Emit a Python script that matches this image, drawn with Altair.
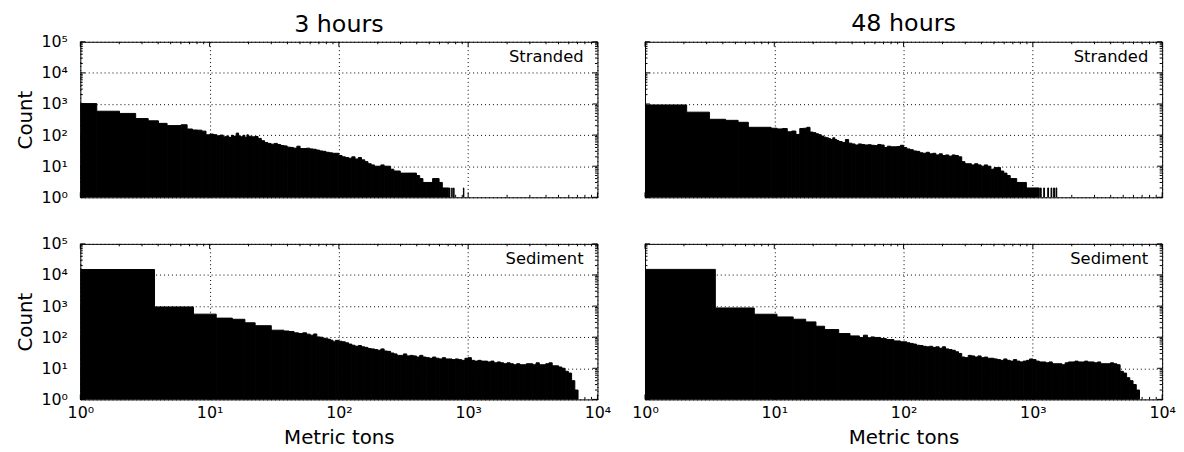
import altair as alt
import pandas as pd

# Shared bin edges (metric tons) for the densely binned part of every histogram
GRID = [19.95, 21.13, 22.39, 23.71, 25.12, 26.61, 28.18, 29.85,
        31.62, 33.50, 35.48, 37.58, 39.81, 42.17, 44.67, 47.32, 50.12, 53.09, 56.23, 59.57,
        63.10, 66.83, 70.79, 74.99, 79.43, 84.14, 89.13, 94.41,
        100.0, 105.9, 112.2, 118.9, 125.9, 133.4, 141.3, 149.6, 158.5, 167.9,
        177.8, 188.4, 199.5, 211.3, 223.9, 237.1, 251.2, 266.1, 281.8, 298.5,
        316.2, 335.0, 354.8, 375.8, 398.1, 421.7, 446.7, 473.2, 501.2, 530.9,
        562.3, 595.7, 631.0, 668.3, 707.9, 749.9, 794.3, 841.4, 891.3, 944.1,
        1000.0, 1059, 1122, 1189, 1259, 1334, 1413, 1496, 1585, 1679,
        1778, 1884, 1995, 2113, 2239, 2371, 2512, 2661, 2818, 2985,
        3162, 3350, 3548, 3758, 3981, 4217, 4467, 4732, 5012, 5309,
        5623, 5957, 6310, 6683, 7079]

# ---- 3 hours, Stranded ----
S3_LOW_EDGES = [1.0, 1.34, 2.01, 2.68, 3.35, 4.02, 4.69, 5.36, 6.03, 6.70, 7.37, 8.04, 8.71,
                9.38, 10.05, 10.72, 11.39, 12.06, 12.73, 13.40, 14.07, 14.74, 15.41, 16.08,
                16.75, 17.42, 18.09, 18.76, 19.43, 19.95]
S3_LOW_COUNTS = [1030, 585, 497, 340, 288, 238, 202, 202, 215, 157, 146, 144, 134, 102, 108,
                 103, 95, 100, 88, 93, 84, 98, 90, 116, 93, 88, 98, 84, 102]
S3_DENSE_COUNTS = [92, 88, 90, 78, 66, 58, 54, 51, 54, 50,
                   46, 45, 41, 40, 38, 44, 37, 37, 38, 36,
                   35, 33, 31, 30, 28, 27, 26, 26, 22, 20,
                   19, 18, 20, 17, 19, 16, 14, 12, 11, 10,
                   10, 11, 10, 10, 8, 7, 7, 6, 6, 6,
                   6, 6, 5, 4, 3, 3, 3, 4, 4, 3,
                   2, 2]
S3_TAIL_EDGES = [716, 722, 746, 752, 772, 778, 919, 926]
S3_TAIL_COUNTS = [2, 1, 2, 1, 2, 1, 2]

# ---- 48 hours, Stranded ----
S48_LOW_EDGES = [1.0, 2.10, 3.15, 4.20, 5.25, 6.30, 9.45, 10.50, 11.55, 12.60, 13.65, 14.70,
                 15.75, 16.80, 17.85, 18.90, 19.95, 21.00, 22.05, 23.10, 24.15, 25.20, 26.25,
                 27.30, 28.35, 29.40, 30.45, 31.62]
S48_LOW_COUNTS = [930, 545, 322, 298, 258, 178, 166, 158, 163, 128, 135, 105, 163, 166, 178,
                  125, 120, 110, 103, 93, 86, 82, 77, 72, 82, 72, 67]
S48_DENSE_COUNTS = [62, 58, 72, 55, 52, 48, 52, 50, 48, 49,
                    47, 46, 50, 48, 40, 44, 42, 42, 43, 47,
                    40, 36, 34, 31, 30, 27, 26, 28, 25, 26,
                    23, 25, 22, 23, 21, 23, 22, 20, 14, 12,
                    12, 11, 12, 11, 10, 11, 10, 8, 9, 9,
                    7, 6, 5, 4, 4, 3, 3, 3, 2, 2,
                    2, 2]
S48_TAIL_EDGES = [1146, 1160, 1214, 1230, 1304, 1322, 1383, 1401, 1449, 1469, 1511, 1531]
S48_TAIL_COUNTS = [2, 1, 2, 1, 2, 1, 2, 1, 2, 1, 2]

# ---- 3 hours, Sediment ----
D3_LOW_EDGES = [1.0, 3.75, 7.5, 11.25, 15.0, 18.75, 22.5, 30.0, 37.5, 41.25, 45.0, 48.75,
                52.5, 56.25, 60.0, 63.75, 67.5, 71.25, 75.0, 78.75, 82.5, 86.25, 90.0, 93.75,
                100.0]
D3_LOW_COUNTS = [15000, 940, 550, 410, 376, 290, 234, 168, 158, 152, 138, 131, 138, 125, 116,
                 127, 102, 100, 93, 89, 86, 80, 71, 79]
D3_DENSE_COUNTS = [74, 71, 66, 60, 55, 51, 54, 49, 47, 43,
                   42, 40, 38, 42, 36, 35, 31, 29, 26, 26,
                   29, 25, 26, 25, 23, 26, 23, 22, 21, 23,
                   21, 20, 22, 20, 20, 19, 20, 19, 18, 21,
                   22, 18, 17, 18, 17, 17, 16, 17, 15, 16,
                   15, 14, 15, 14, 13, 14, 13, 13, 14, 14,
                   13, 15, 13, 13, 14, 15, 12, 12, 11, 10,
                   8, 7, 4, 2]

# ---- 48 hours, Sediment ----
D48_LOW_EDGES = [1.0, 3.5, 7.0, 10.5, 14.0, 17.5, 21.0, 24.5, 31.5, 38.5, 45.5, 49.0, 52.5,
                 56.0, 59.5, 66.5, 73.5, 84.0, 94.5, 100.0]
D48_LOW_COUNTS = [15100, 870, 547, 448, 378, 310, 225, 176, 131, 110, 98, 116, 96, 102, 98,
                  91, 84, 76, 71]
D48_DENSE_COUNTS = [71, 66, 63, 60, 55, 54, 51, 49, 51, 47,
                    49, 44, 49, 42, 40, 38, 34, 30, 23, 22,
                    26, 25, 23, 25, 22, 23, 21, 21, 20, 19,
                    18, 20, 18, 17, 19, 17, 16, 17, 18, 20,
                    19, 17, 16, 16, 15, 16, 14, 14, 14, 13,
                    15, 16, 16, 17, 16, 16, 17, 16, 16, 15,
                    16, 14, 14, 14, 15, 14, 13, 8, 7, 5,
                    4, 3, 2]

X_MAJOR = [1, 10, 100, 1000, 10000]
Y_MAJOR = [1, 10, 100, 1000, 10000, 100000]
X_MINOR = [m * d for d in (1, 10, 100, 1000) for m in range(2, 10)]
Y_MINOR = [m * d for d in (1, 10, 100, 1000, 10000) for m in range(2, 10)]

W, H = 522, 157
FONT = "DejaVu Sans"
SUP = ("datum.value == 1 ? '10⁰' : datum.value == 10 ? '10¹' : datum.value == 100 ? '10²' : "
       "datum.value == 1000 ? '10³' : datum.value == 10000 ? '10⁴' : '10⁵'")


def build(low_edges, low_counts, dense_counts, tail_edges, tail_counts):
    k0 = GRID.index(low_edges[-1])
    dense_edges = GRID[k0:k0 + len(dense_counts) + 1]
    rows = []
    for edges, counts in ((low_edges, low_counts), (dense_edges, dense_counts),
                          (tail_edges, tail_counts)):
        for a, b, c in zip(edges[:-1], edges[1:], counts):
            if c > 1:
                rows.append({"left": a, "right": b, "count": c, "base": 1})
    return pd.DataFrame(rows)


def panel(df, label, col_title, title_offset, bottom, left):
    xs = alt.Scale(type="log", domain=[1, 10000], nice=False)
    ys = alt.Scale(type="log", domain=[1, 100000], nice=False)
    xaxis = alt.Axis(values=X_MAJOR, labelExpr=SUP, grid=True, gridDash=[1, 3],
                     gridColor="black", gridOpacity=1, gridWidth=1, ticks=False, domain=False,
                     labels=bottom, labelFontSize=16, labelColor="black", labelPadding=5,
                     labelFlush=False, labelOverlap=False,
                     title="Metric tons" if bottom else "", titleFontSize=20,
                     titleFontWeight="normal", titleColor="black", titlePadding=8)
    yaxis = alt.Axis(values=Y_MAJOR, labelExpr=SUP, grid=True, gridDash=[1, 3],
                     gridColor="black", gridOpacity=1, gridWidth=1, ticks=False, domain=False,
                     labels=left, labelFontSize=16,
                     labelColor="black", labelPadding=13, labelFlush=False, labelOverlap=False,
                     title="Count" if left else "", titleFontSize=20,
                     titleFontWeight="normal", titleColor="black", titlePadding=6)
    bars = alt.Chart(df).mark_rect(color="black", stroke="black", strokeWidth=1,
                                   clip=True).encode(
        x=alt.X("left:Q", scale=xs, axis=xaxis),
        x2="right:Q",
        y=alt.Y("count:Q", scale=ys, axis=yaxis),
        y2="base:Q",
    )
    layers = [bars]
    xmaj = pd.DataFrame({"v": X_MAJOR})
    xmin = pd.DataFrame({"v": X_MINOR})
    ymaj = pd.DataFrame({"v": Y_MAJOR})
    ymin = pd.DataFrame({"v": Y_MINOR})
    for d, ln in ((xmaj, 5), (xmin, 2.5)):
        for y0, y1 in ((H, H - ln), (0, ln)):
            layers.append(alt.Chart(d).mark_rule(color="black", strokeWidth=1).encode(
                x=alt.X("v:Q", scale=xs, axis=xaxis), y=alt.value(y0), y2=alt.value(y1)))
    for d, ln in ((ymaj, 5), (ymin, 2.5)):
        for x0, x1 in ((0, ln), (W, W - ln)):
            layers.append(alt.Chart(d).mark_rule(color="black", strokeWidth=1).encode(
                y=alt.Y("v:Q", scale=ys, axis=yaxis), x=alt.value(x0), x2=alt.value(x1)))
    layers.append(alt.Chart(pd.DataFrame({"t": [label]})).mark_text(
        align="right", baseline="alphabetic", fontSize=16.5, font=FONT, color="black").encode(
        text="t:N", x=alt.value(W - 14), y=alt.value(20)))
    ch = alt.layer(*layers).properties(width=W, height=H)
    if col_title:
        ch = ch.properties(title=alt.TitleParams(col_title, fontSize=24, fontWeight="normal",
                                                 font=FONT, color="black", anchor="middle",
                                                 baseline="alphabetic", offset=title_offset))
    return ch


p1 = panel(build(S3_LOW_EDGES, S3_LOW_COUNTS, S3_DENSE_COUNTS, S3_TAIL_EDGES, S3_TAIL_COUNTS),
           "Stranded", "3 hours", -22, False, True)
p2 = panel(build(S48_LOW_EDGES, S48_LOW_COUNTS, S48_DENSE_COUNTS, S48_TAIL_EDGES, S48_TAIL_COUNTS),
           "Stranded", "48 hours", -14, False, False)
p3 = panel(build(D3_LOW_EDGES, D3_LOW_COUNTS, D3_DENSE_COUNTS, [], []),
           "Sediment", None, 0, True, True)
p4 = panel(build(D48_LOW_EDGES, D48_LOW_COUNTS, D48_DENSE_COUNTS, [], []),
           "Sediment", None, 0, True, False)

chart = alt.concat(p1, p2, p3, p4, columns=2, spacing={"row": 29, "column": 20},
                   align="each").properties(
    padding={"left": 6, "top": 2, "right": 0, "bottom": 0}
).configure(font=FONT).configure_view(stroke="black", strokeWidth=1)

chart.save("out.html", embed_options={"renderer": "svg", "actions": False})
